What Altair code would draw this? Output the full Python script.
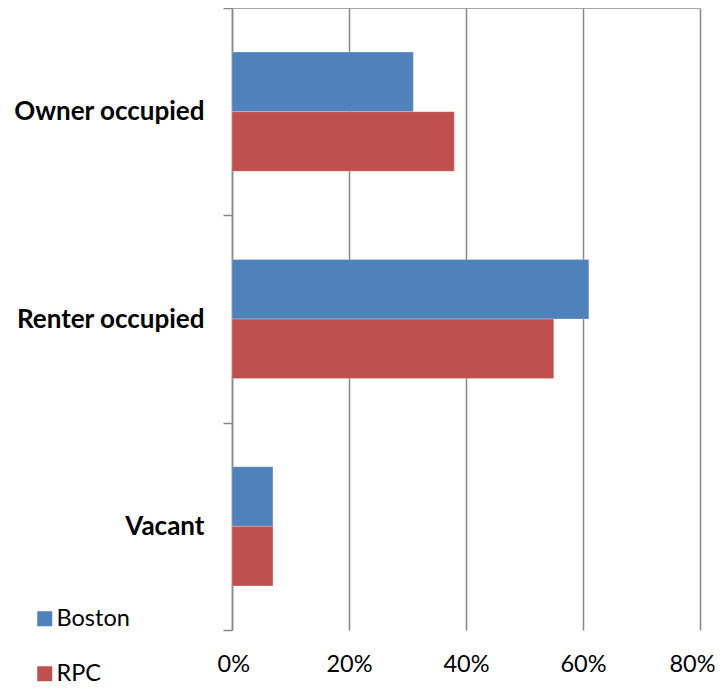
import altair as alt
import pandas as pd

categories = ["Owner occupied", "Renter occupied", "Vacant"]
series = ["Boston", "RPC"]
boston = [0.31, 0.61, 0.07]
rpc = [0.38, 0.55, 0.07]
colors = ["#4F81BD", "#C0504D"]
ticks = [0, 0.2, 0.4, 0.6, 0.8]

rows = []
for c, b, r in zip(categories, boston, rpc):
    rows.append({"category": c, "series": "Boston", "value": b})
    rows.append({"category": c, "series": "RPC", "value": r})
df = pd.DataFrame(rows)

FONT = "Lato"

bars = alt.Chart(df).mark_bar(stroke="white", strokeOpacity=0.25, strokeWidth=1).encode(
    y=alt.Y("category:N", sort=categories, title=None,
            scale=alt.Scale(paddingInner=0, paddingOuter=0),
            axis=alt.Axis(tickBand="extent", tickSize=9, tickColor="#888888", tickWidth=1.5,
                          domainColor="#888888", domainWidth=1.5,
                          labelFont=FONT, labelFontSize=26, labelFontWeight="bold",
                          labelColor="black", labelPadding=19, labelLimit=400, grid=False)),
    yOffset=alt.YOffset("series:N", sort=series,
                        scale=alt.Scale(paddingInner=0, paddingOuter=0.739)),
    x=alt.X("value:Q", title=None,
            scale=alt.Scale(domain=[0, 0.8], nice=False),
            axis=alt.Axis(values=ticks, format=".0%", domain=False, ticks=False,
                          labelFlush=True, labelFlushOffset=15, labelOverlap=False,
                          labelFont=FONT, labelFontSize=23.5, labelColor="black",
                          labelPadding=22, grid=True, gridColor="#888888", gridWidth=1.5)),
    color=alt.Color("series:N", sort=series,
                    scale=alt.Scale(domain=series, range=colors),
                    legend=alt.Legend(title=None, orient="none", legendX=-199, legendY=599,
                                      symbolType="square", symbolSize=225, symbolStrokeWidth=0,
                                      labelFont=FONT, labelFontSize=23.5, labelColor="black",
                                      rowPadding=30, labelOffset=0)),
)

top_line = alt.Chart(pd.DataFrame({"a": [0], "b": [0.8]})).mark_rule(
    color="#888888", strokeWidth=1.5
).encode(x=alt.X("a:Q"), x2="b:Q", y=alt.value(0))

chart = alt.layer(bars, top_line).properties(
    width=468, height=622,
    autosize=alt.AutoSizeParams(type="none"),
    padding={"left": 224, "top": 0, "right": 17, "bottom": 54},
).configure_view(stroke=None)

chart.save("out.html", embed_options={"renderer": "svg", "actions": False})
